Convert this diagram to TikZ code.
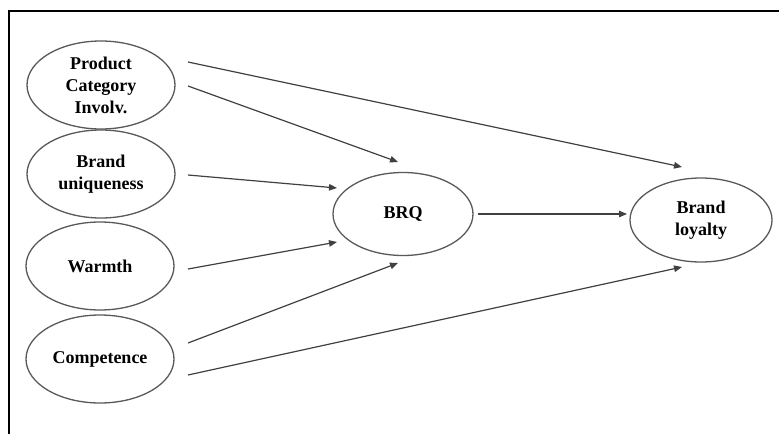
\documentclass[tikz,border=0pt]{standalone}
\usepackage{fontspec}
\setmainfont{Liberation Serif}
\usetikzlibrary{shapes.geometric,arrows.meta}
\begin{document}
\begin{tikzpicture}[x=1pt,y=-1pt,
  construct/.style={ellipse,draw=black!65,line width=1.3pt,inner sep=0pt,
    minimum width=148pt,minimum height=88pt,align=center,
    font=\fontsize{18}{22}\selectfont\bfseries},
  path/.style={draw=black!75,line width=1.2pt,
    -{Triangle[length=8pt,width=6.5pt]}}]
\useasboundingbox (0,0) rectangle (779,434);
% frame
\draw[line width=2pt] (9,434) -- (9,11) -- (779,11);
% constructs
\node[construct] (pci) at (101,85) {Product\\Category\\Involv.};
\node[construct] (uniq) at (101,174) {Brand\\uniqueness};
\node[construct] (warm) at (100,266) {Warmth};
\node[construct] (comp) at (100,359) {Competence};
\node[construct,minimum width=140pt,minimum height=83pt] (brq) at (403,214) {BRQ};
\node[construct,minimum width=142pt,minimum height=84pt] (loy) at (701,220) {Brand\\loyalty};
% arrow end points
\coordinate (pciA) at (188,62);  \coordinate (loyA) at (682,167);
\coordinate (pciB) at (188,86);  \coordinate (brqA) at (398,162);
\coordinate (uniqA) at (188,175); \coordinate (brqB) at (337,188);
\coordinate (warmA) at (188,269); \coordinate (brqC) at (337,242);
\coordinate (compA) at (188,343); \coordinate (brqD) at (398,263);
\coordinate (compB) at (188,375); \coordinate (loyB) at (682,267);
\coordinate (brqE) at (478,214); \coordinate (loyC) at (627,214);
% paths
\draw[path] (pciA) -- (loyA);
\draw[path] (pciB) -- (brqA);
\draw[path] (uniqA) -- (brqB);
\draw[path] (warmA) -- (brqC);
\draw[path] (compA) -- (brqD);
\draw[path] (compB) -- (loyB);
\draw[path] (brqE) -- (loyC);
\end{tikzpicture}
\end{document}
